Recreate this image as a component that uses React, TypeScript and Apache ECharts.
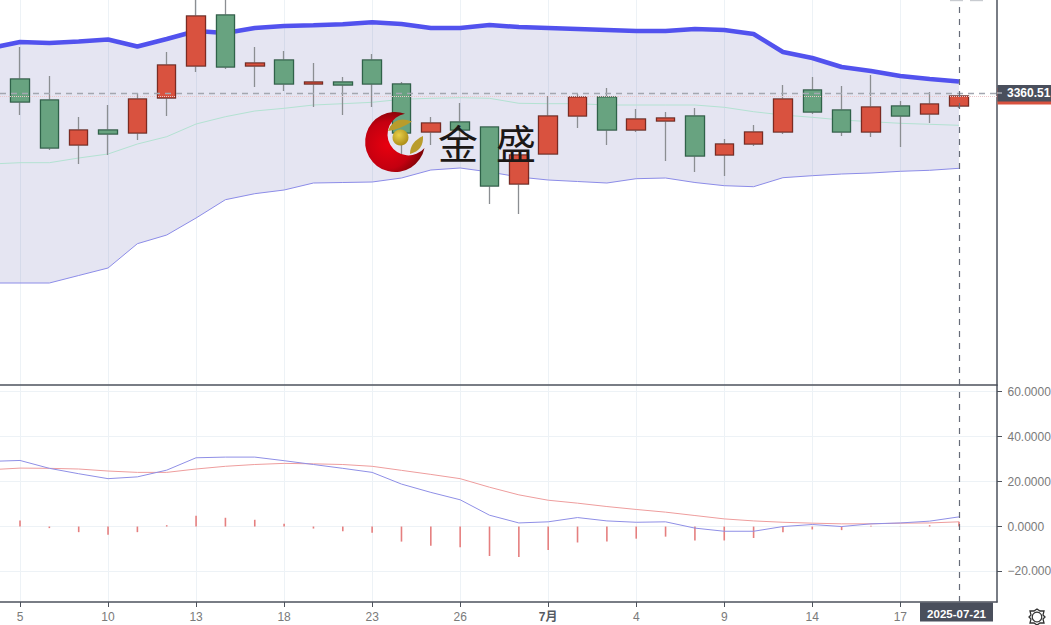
import React, { useEffect, useRef } from "react";
import * as echarts from "echarts";

const dates = ["2025-06-04","2025-06-05","2025-06-06","2025-06-09","2025-06-10","2025-06-11","2025-06-12","2025-06-13","2025-06-16","2025-06-17","2025-06-18","2025-06-19","2025-06-20","2025-06-23","2025-06-24","2025-06-25","2025-06-26","2025-06-27","2025-06-30","2025-07-01","2025-07-02","2025-07-03","2025-07-04","2025-07-07","2025-07-08","2025-07-09","2025-07-10","2025-07-11","2025-07-14","2025-07-15","2025-07-16","2025-07-17","2025-07-18","2025-07-21"];
const opens = [3373.5,3374.5,3353.5,3308.5,3323.5,3320.5,3355.5,3387.5,3438.5,3387.5,3393.5,3369.5,3371.5,3393.5,3369.5,3321.5,3331.5,3326.5,3269.5,3299.5,3337.5,3356.5,3323.5,3332.5,3337.5,3298.5,3309.5,3321.5,3363.5,3343.5,3321.5,3347.5,3339.5,3347.5];
const closes = [3358.5,3351.5,3305.5,3323.5,3319.5,3354.5,3388.5,3437.5,3386.5,3390.5,3369.5,3371.5,3368.5,3369.5,3320.5,3330.5,3323.5,3267.5,3298.5,3337.5,3356.5,3323.5,3334.5,3335.5,3297.5,3309.5,3321.5,3354.5,3341.5,3321.5,3346.5,3337.5,3349.5,3357.5];
const lows = [3343.5,3338.5,3303.5,3289.5,3298.5,3313.5,3337.5,3381.5,3384.5,3366.5,3362.5,3346.5,3338.5,3346.5,3296.5,3308.5,3308.5,3249.5,3239.5,3299.5,3325.5,3308.5,3321.5,3292.5,3281.5,3277.5,3307.5,3319.5,3339.5,3317.5,3316.5,3306.5,3330.5,3345.5];
const highs = [3393.5,3406.5,3377.5,3336.5,3348.5,3360.5,3401.5,3465,3465,3406.5,3402.5,3390.5,3376.5,3399.5,3371.5,3336.5,3350.5,3326.5,3299.5,3357.5,3359.5,3365.5,3344.5,3341.5,3345.5,3314.5,3328.5,3368.5,3376.5,3367.5,3378.5,3352.5,3361.5,3357.5];
const bollUpper = [3405.5,3411.5,3410.5,3412,3414,3407,3414.5,3422.5,3420.5,3425.5,3427.5,3428.2,3429.2,3431.2,3429.5,3425.5,3425.5,3428.5,3426.5,3425.5,3424.5,3423.5,3422.5,3422.5,3424.5,3423.5,3419.5,3401.5,3395.5,3386.5,3382.5,3377.5,3374.5,3372];
const bollLower = [3170.5,3170.5,3170.5,3178,3185.5,3209.8,3218.5,3235.5,3253.8,3259.8,3263.5,3270.5,3271,3271.5,3275.5,3283.5,3285.5,3281.5,3276.5,3273.5,3272,3270.5,3274.8,3275.5,3271,3267.8,3266.8,3275.8,3277.8,3279.5,3280.5,3282.2,3283.2,3285.2];
const bollMid = [3289.5,3290.8,3290.8,3295.5,3299.5,3309.5,3316.8,3329.5,3336.8,3342.5,3345.2,3348.5,3349.8,3351.2,3354.2,3355.2,3355.8,3355.2,3350.2,3349.8,3349.8,3348.5,3348.5,3348.5,3348.5,3346.2,3341.8,3338.5,3336.2,3333.5,3331.8,3330.2,3329.2,3328.2];
const dif = [29,29.4,25.9,23.5,21.3,22.1,25.1,30.6,30.9,30.9,29.3,27.6,25.9,24.1,18.9,15.2,11.9,5.05,1.6,2.1,4,2.5,1.9,2.1,-0.7,-2.1,-2.1,0,0.9,0,1.2,1.6,2.4,4.3];
const dea = [25.3,26,25.9,25.6,24.7,24.1,24.1,25.6,26.8,27.6,28.1,27.9,27.6,26.8,25,23.2,21.3,17.5,14.1,11.7,10.4,8.9,7.6,6.4,4.9,3.4,2.5,1.9,1.5,1.2,1.2,1.5,1.6,2.1];
const hist = [0.5,2.7,-0.7,-2.5,-3.7,-2.5,0.6,4.8,3.9,3,1.2,-0.9,-2.1,-2.8,-6.7,-8.5,-9.2,-13.1,-13.5,-10.4,-7.1,-6.7,-5.4,-4.5,-6.2,-6.2,-5.1,-2.5,-1.3,-1.6,0.4,0.1,0.6,2.1];
const tickIndex = [1,4,7,10,13,16,19,22,25,28,31];
const tickLabels = ["5","10","13","18","23","26","7月","4","9","14","17"];
const macdTicks = [-20,0,20,40,60];
const crosshairPrice = 3360.51;
const crosshairDate = "2025-07-21";
const lastClose = 3357.5;

const FONT = "'Liberation Sans', 'Noto Sans CJK SC', sans-serif";
const xMin = 0.318, xMax = 34.295;
const AXIS = "#4d525c";
const GRID = "#edf2f6";
const TAG = "#4a4f5c";
const UP = "#d9523f";
const DOWN = "#68a380";

echarts.graphic.registerShape("jsCrescent", echarts.graphic.extendPath("M405 113.7 A30 30 0 1 0 424.5 148 A21 21 0 1 1 405 113.7 Z", {}));
echarts.graphic.registerShape("jsLeafTop", echarts.graphic.extendPath("M388 131 Q394 115 412 121.5 Q401 119.5 388 131 Z M388 131 Q399 130 412 121.5 Q401 119.5 388 131 Z", {}));
echarts.graphic.registerShape("jsLeafRight", echarts.graphic.extendPath("M410 154 Q410 142 423 136 Q424 150 410 154 Z", {}));
echarts.graphic.registerShape("jsGear", echarts.graphic.extendPath("M1037 609 L1040 611 L1044 611 L1043 615 L1045 617 L1043 619 L1044 623 L1040 623 L1037 625 L1034 623 L1030 623 L1031 619 L1029 617 L1031 615 L1030 611 L1034 611 Z", {}));

export default function App() {
  const ref = useRef<HTMLDivElement>(null);
  useEffect(() => {
    document.body.style.margin = "0";
    document.body.style.overflow = "hidden";
    const chart = echarts.init(ref.current!, null, { renderer: "svg" });
    const xAxisBase = (gridIndex: number, showLabel: boolean) => ({
      type: "value", gridIndex, min: xMin, max: xMax,
      axisLine: { show: true, onZero: false, lineStyle: { color: AXIS, width: 1.5 } },
      axisTick: { show: showLabel, length: 5, customValues: tickIndex, lineStyle: { color: AXIS, width: 1 } },
      splitLine: { show: true, lineStyle: { color: GRID, width: 1 } },
      axisLabel: {
        show: showLabel, customValues: tickIndex, margin: 9, fontSize: 12, fontFamily: FONT, color: "#7a7a7a",
        hideOverlap: false,
        formatter: (v: number) => {
          const t = tickLabels[tickIndex.indexOf(v)] ?? "";
          return t === "7月" ? "{b|7月}" : t;
        },
        rich: { b: { fontWeight: "bold", color: "#555a62", fontSize: 12, fontFamily: FONT } },
      },
    });
    const line = (name: string, data: number[], xi: number, color: string, width: number, z: number, extra: any = {}) => ({
      name, type: "line", xAxisIndex: xi, yAxisIndex: xi, data: data.map((v, i) => [i, v]),
      symbol: "none", z, lineStyle: { color, width }, ...extra,
    });
    chart.setOption({
      animation: false,
      backgroundColor: "#ffffff",
      grid: [
        { left: 0, top: 0, width: 997, height: 385, outerBoundsMode: "none" },
        { left: 0, top: 385.5, width: 997, height: 216.5, outerBoundsMode: "none" },
      ],
      xAxis: [xAxisBase(0, false), xAxisBase(1, true)],
      yAxis: [
        { type: "value", gridIndex: 0, position: "right", min: 3068.5, max: 3453.5,
          axisLine: { show: true, lineStyle: { color: AXIS, width: 1.5 } },
          axisTick: { show: false }, axisLabel: { show: false }, splitLine: { show: false } },
        { type: "value", gridIndex: 1, position: "right", min: -33.58, max: 62.76,
          axisLine: { show: true, onZero: false, lineStyle: { color: AXIS, width: 1.5 } },
          axisTick: { show: true, length: 5, customValues: macdTicks, lineStyle: { color: AXIS, width: 1 } },
          splitLine: { show: true, lineStyle: { color: GRID, width: 1 } },
          axisLabel: { show: true, customValues: macdTicks, margin: 10.5, fontSize: 12, fontFamily: FONT, color: "#7a7a7a",
            formatter: (v: number) => (v < 0 ? "\u2212" + Math.abs(v).toFixed(3) : v.toFixed(4)) } },
      ],
      series: [
        {
          name: "band", type: "custom", xAxisIndex: 0, yAxisIndex: 0, z: 1, clip: true, silent: true,
          data: dates.map((_, i) => [i, bollLower[i], bollUpper[i]]),
          encode: { x: 0, y: [1, 2] },
          renderItem: (params: any, api: any) => {
            if (params.dataIndex !== 0) return null;
            const top = bollUpper.map((v, i) => api.coord([i, v]));
            const bottom = bollLower.map((v, i) => api.coord([i, v])).reverse();
            return { type: "polygon", shape: { points: top.concat(bottom) }, style: { fill: "rgba(90,90,170,0.155)" } };
          },
        },
        line("boll-mid", bollMid, 0, "#b3e2d2", 1, 2),
        line("boll-lower", bollLower, 0, "#8c8ce8", 1, 2),
        line("boll-upper", bollUpper, 0, "#5252ee", 4.5, 2),
        {
          name: "wicks", type: "candlestick", xAxisIndex: 0, yAxisIndex: 0, z: 3, barWidth: 19,
          data: dates.map((_, i) => [i, opens[i], closes[i], lows[i], highs[i]]),
          itemStyle: { color: UP, color0: DOWN, borderColor: "#8b8e92", borderColor0: "#8b8e92", borderWidth: 1.3 },
        },
        {
          name: "bodies", type: "candlestick", xAxisIndex: 0, yAxisIndex: 0, z: 4, barWidth: 19,
          data: dates.map((_, i) => [i, opens[i], closes[i], Math.min(opens[i], closes[i]), Math.max(opens[i], closes[i])]),
          itemStyle: { color: UP, color0: DOWN, borderColor: "#7c2a22", borderColor0: "#2f6249", borderWidth: 1.2 },
        },
        line("crosshair", dates.map(() => crosshairPrice), 0, "transparent", 0, 5, {
          silent: true,
          markLine: {
            silent: true, symbol: "none", animation: false, label: { show: false },
            data: [
              { yAxis: lastClose, lineStyle: { color: "#ecc6c8", type: "dotted", width: 1 } },
              { yAxis: crosshairPrice, lineStyle: { color: "#a3a7b0", type: [6, 5], width: 1.3 } },
              { xAxis: 33, lineStyle: { color: "#666b78", type: [6, 6], width: 1.2 } },
            ],
          },
        }),
        {
          name: "hist", type: "bar", xAxisIndex: 1, yAxisIndex: 1, z: 2, barWidth: 1.6,
          data: hist.map((v, i) => [i, v]),
          itemStyle: { color: "#e57f7f" },
          markLine: {
            silent: true, symbol: "none", animation: false, label: { show: false },
            data: [{ xAxis: 33, lineStyle: { color: "#666b78", type: [6, 6], width: 1.2 } }],
          },
        },
        line("dea", dea, 1, "#ee9d9d", 1, 3),
        line("dif", dif, 1, "#8f8fe6", 1, 3),
      ],
      graphic: [
        { type: "rect", z: 20, shape: { x: 950, y: 0, width: 13, height: 1.2 }, style: { fill: "#c8cbd0" } },
        { type: "rect", z: 20, shape: { x: 970, y: 0, width: 13, height: 1.2 }, style: { fill: "#c8cbd0" } },
        { type: "rect", z: 20, shape: { x: 997.5, y: 88, width: 54, height: 16.5 }, style: { fill: UP } },
        { type: "rect", z: 21, shape: { x: 997.5, y: 85, width: 54, height: 16.5 }, style: { fill: TAG } },
        { type: "line", z: 22, shape: { x1: 997, y1: 93, x2: 1002, y2: 93 }, style: { stroke: "#d5d7db", lineWidth: 1 } },
        { type: "text", z: 22, x: 1007, y: 93, style: { text: crosshairPrice.toFixed(2), fill: "#ffffff", font: `bold 12px ${FONT}`, textVerticalAlign: "middle", textAlign: "left" } },
        { type: "rect", z: 21, shape: { x: 920, y: 602.5, width: 73, height: 19 }, style: { fill: TAG } },
        { type: "text", z: 22, x: 956.5, y: 614, style: { text: crosshairDate, fill: "#ffffff", font: `bold 11.5px ${FONT}`, textAlign: "center", textVerticalAlign: "middle" } },
        { type: "jsGear", z: 22, style: { fill: "none", stroke: "#333333", lineWidth: 1.3 } },
        { type: "circle", z: 22, shape: { cx: 1037, cy: 617, r: 4.8 }, style: { fill: "#ffffff", stroke: "#333333", lineWidth: 1.2 } },
        {
          type: "jsCrescent", z: 30,
          style: { fill: new echarts.graphic.RadialGradient(0.38, 0.55, 0.65, [
            { offset: 0, color: "#e8000f" }, { offset: 0.6, color: "#c40010" }, { offset: 1, color: "#6d0505" },
          ]) },
        },
        { type: "jsLeafTop", z: 30, style: { fill: "#b99c2c" } },
        { type: "jsLeafRight", z: 30, style: { fill: "#b99c2c" } },
        {
          type: "circle", z: 31, shape: { cx: 400.5, cy: 137.5, r: 8 },
          style: { fill: new echarts.graphic.RadialGradient(0.4, 0.35, 0.7, [
            { offset: 0, color: "#e8cf4a" }, { offset: 1, color: "#a98a14" },
          ]) },
        },
        { type: "text", z: 30, x: 458, y: 142, style: { text: "金", fill: "#1c1816", font: `400 40px 'Noto Sans CJK SC', sans-serif`, textAlign: "center", textVerticalAlign: "middle" } },
        { type: "text", z: 30, x: 516, y: 142, style: { text: "盛", fill: "#1c1816", font: `400 40px 'Noto Sans CJK SC', sans-serif`, textAlign: "center", textVerticalAlign: "middle" } },
      ],
    });
    return () => chart.dispose();
  }, []);
  return <div ref={ref} style={{ width: 1051, height: 625 }} />;
}
